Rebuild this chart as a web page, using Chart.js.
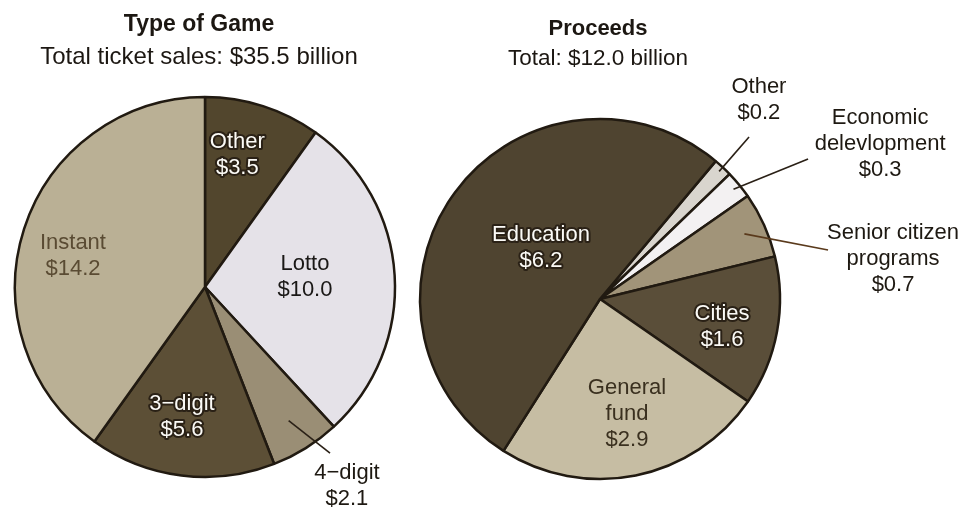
<!DOCTYPE html>
<html>
<head>
<meta charset="utf-8">
<script src="https://cdn.jsdelivr.net/npm/chart.js@4.4.1/dist/chart.umd.min.js"></script>
<style>
  html, body { margin: 0; padding: 0; background: #ffffff; }
  #wrap { position: relative; width: 972px; height: 512px; overflow: hidden; background: #ffffff; }
  canvas { position: absolute; top: 0; }
  #gameCanvas { left: 0; }
  #proceedsCanvas { left: 410px; }
</style>
</head>
<body>
<div id="wrap">
  <canvas id="gameCanvas" width="420" height="512"></canvas>
  <canvas id="proceedsCanvas" width="562" height="512"></canvas>
</div>
<script>
// Ticket sales by type of game (billions of dollars)
const gameTypes = [['Other'], ['Lotto'], ['4\u2212digit'], ['3\u2212digit'], ['Instant']];
const gameSales = [3.5, 10.0, 2.1, 5.6, 14.2];

// Where lottery proceeds go (billions of dollars)
const proceedUses = [['Other'], ['Economic', 'delevlopment'], ['Senior citizen', 'programs'], ['Cities'], ['General', 'fund'], ['Education']];
const proceedAmounts = [0.2, 0.3, 0.7, 1.6, 2.9, 6.2];

// Chart headings
const gameHeading = ['Type of Game', 'Total ticket sales: $35.5 billion'];
const proceedHeading = ['Proceeds', 'Total: $12.0 billion'];

// Slice fills
const gameColors = ['#52462d', '#e5e2e8', '#9a8e75', '#5c4f36', '#bab095'];
const proceedColors = ['#d9d5ce', '#f3f1f2', '#a19479', '#5a4e39', '#c6bda3', '#4f4430'];

const FONT = '"Liberation Sans", Arial, Helvetica, sans-serif';

// Label placement in units of the pie radius, relative to the pie centre.
// style: 'halo' = white text with dark outline, 'plain' = coloured text.
const gamePlacement = [
  { dx: 0.170, dy: -0.697, style: 'halo' },
  { dx: 0.526, dy: -0.055, style: 'plain', color: '#1a1816' },
  { dx: 0.747, dy: 1.045, style: 'plain', color: '#1e1912', leader: [0.83, 0.658, 0.874] },
  { dx: -0.121, dy: 0.685, style: 'halo' },
  { dx: -0.695, dy: -0.166, style: 'plain', color: '#5a4b33' }
];
const proceedPlacement = [
  { dx: 0.883, dy: -1.106, style: 'plain', color: '#1e1912', leader: [0.97, 0.828, -0.900] },
  { dx: 1.556, dy: -0.861, style: 'plain', color: '#1e1912', leader: [0.96, 1.156, -0.778] },
  { dx: 1.628, dy: -0.222, style: 'plain', color: '#1e1912', leader: [0.88, 1.267, -0.272], leaderColor: '#5a3a1c' },
  { dx: 0.678, dy: 0.153, style: 'halo' },
  { dx: 0.150, dy: 0.639, style: 'plain', color: '#3a301f' },
  { dx: -0.328, dy: -0.286, style: 'halo' }
];

// Draws headings, slice labels and leader lines on top of the pie.
const sliceLabels = {
  id: 'sliceLabels',
  afterDatasetsDraw(chart, args, opts) {
    const ctx = chart.ctx;
    const meta = chart.getDatasetMeta(0);
    const values = chart.data.datasets[0].data;
    ctx.save();
    ctx.textAlign = 'center';
    ctx.textBaseline = 'middle';

    // headings
    ctx.fillStyle = '#1c1712';
    ctx.font = 'bold ' + opts.titleSize + 'px ' + FONT;
    ctx.fillText(opts.heading[0], opts.headingX, opts.titleY);
    ctx.font = opts.subSize + 'px ' + FONT;
    ctx.fillText(opts.heading[1], opts.headingX, opts.subY);

    ctx.font = opts.labelSize + 'px ' + FONT;
    ctx.lineJoin = 'round';
    meta.data.forEach((arc, i) => {
      const p = opts.place[i];
      const { x, y, outerRadius: r, startAngle, endAngle } =
        arc.getProps(['x', 'y', 'outerRadius', 'startAngle', 'endAngle'], true);
      const mid = (startAngle + endAngle) / 2;

      if (p.leader) {
        const [f, ex, ey] = p.leader;
        ctx.beginPath();
        ctx.moveTo(x + Math.cos(mid) * r * f, y + Math.sin(mid) * r * f);
        ctx.lineTo(x + ex * r, y + ey * r);
        ctx.strokeStyle = p.leaderColor || '#2a2016';
        ctx.lineWidth = 1.6;
        ctx.stroke();
      }

      const lines = [...chart.data.labels[i], '$' + values[i].toFixed(1)];
      const cx = x + p.dx * r;
      const cy = y + p.dy * r;
      lines.forEach((t, k) => {
        const ty = cy + (k - (lines.length - 1) / 2) * opts.lineHeight;
        if (p.style === 'halo') {
          ctx.strokeStyle = '#2a2116';
          ctx.lineWidth = 4;
          ctx.strokeText(t, cx, ty);
          ctx.fillStyle = '#fbfaf6';
        } else {
          ctx.fillStyle = p.color;
        }
        ctx.fillText(t, cx, ty);
      });
    });
    ctx.restore();
  }
};

function makePie(canvasId, labels, values, colors, rotation, radius, padding, labelOpts) {
  return new Chart(document.getElementById(canvasId), {
    type: 'pie',
    data: {
      labels: labels,
      datasets: [{
        data: values,
        backgroundColor: colors,
        borderColor: '#211a11',
        borderWidth: 2.5
      }]
    },
    options: {
      responsive: false,
      animation: false,
      devicePixelRatio: 1,
      rotation: rotation,
      radius: radius,
      layout: { padding: padding },
      events: [],
      plugins: {
        legend: { display: false },
        tooltip: { enabled: false },
        sliceLabels: labelOpts
      }
    },
    plugins: [sliceLabels]
  });
}

makePie('gameCanvas', gameTypes, gameSales, gameColors, 0, 190,
  { left: 15, right: 25, top: 97, bottom: 35 },
  { heading: gameHeading, headingX: 199, titleY: 25, subY: 57, titleSize: 23, subSize: 24,
    labelSize: 22, lineHeight: 26, place: gamePlacement });

makePie('proceedsCanvas', proceedUses, proceedAmounts, proceedColors, 40, 180,
  { left: 10, right: 192, top: 119, bottom: 33 },
  { heading: proceedHeading, headingX: 188, titleY: 29, subY: 59, titleSize: 22, subSize: 22.5,
    labelSize: 22, lineHeight: 26, place: proceedPlacement });
</script>
</body>
</html>
